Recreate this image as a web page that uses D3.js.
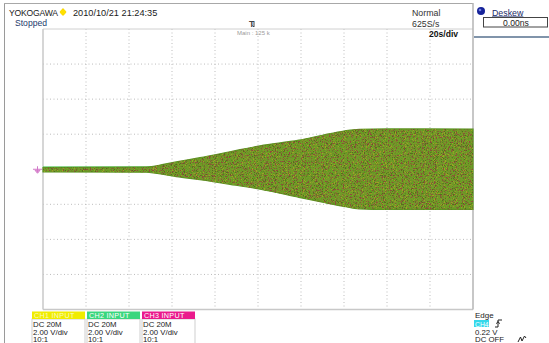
<!DOCTYPE html>
<html>
<head>
<meta charset="utf-8">
<script src="https://cdn.jsdelivr.net/npm/d3@7/dist/d3.min.js"></script>
<style>
html,body{margin:0;padding:0;background:#fff;}
svg{display:block;font-family:"Liberation Sans",Arial,sans-serif;}
</style>
</head>
<body>
<svg id="c" width="549" height="343"></svg>
<script>
// ---- data ----
const timeS  = [0, 48, 52, 56, 62, 73, 87, 101, 119, 130, 140, 147, 160, 200];     // seconds
const upperV = [0.10, 0.12, 0.18, 0.28, 0.42, 0.66, 1.00, 1.34, 1.66, 1.94, 2.18, 2.28, 2.30, 2.29];
const lowerV = [-0.15, -0.17, -0.22, -0.30, -0.42, -0.60, -0.86, -1.14, -1.60, -1.88, -2.12, -2.26, -2.29, -2.29];
const traceT = [0, 60];            // flat pre-growth traces
const ch2Level = [0.11, 0.11];     // green trace
const ch1Level = [-0.06, -0.06];   // yellow trace
const xTicks = [0, 20, 40, 60, 80, 100, 120, 140, 160, 180, 200];
const yTicks = [-8, -6, -4, -2, 0, 2, 4, 6, 8];
const channels = [
  {name:"CH1  INPUT", color:"#f0ec00", lines:["DC 20M","2.00 V/div","10:1"]},
  {name:"CH2  INPUT", color:"#3ad67e", lines:["DC 20M","2.00 V/div","10:1"]},
  {name:"CH3  INPUT", color:"#ea1a8c", lines:["DC 20M","2.00 V/div","10:1"]}
];

const svg = d3.select("#c");
const L = 43, R = 473, T = 29, B = 309.5;
const x = d3.scaleLinear().domain([0, 200]).range([L, R]);
const y = d3.scaleLinear().domain([-8, 8]).range([B, T]);

// defs: speckle textures
const defs = svg.append("defs");
function speck(id, seed, freq, rgb, ch, k, c) {
  const f = defs.append("filter").attr("id", id)
    .attr("x", 0).attr("y", 0).attr("width", 1).attr("height", 1)
    .attr("color-interpolation-filters", "sRGB");
  f.append("feTurbulence").attr("type", "fractalNoise")
    .attr("baseFrequency", freq).attr("numOctaves", 2).attr("seed", seed);
  const a = [0,0,0,0]; a[ch] = k;
  f.append("feColorMatrix").attr("type", "matrix").attr("values",
    `0 0 0 0 ${rgb[0]} 0 0 0 0 ${rgb[1]} 0 0 0 0 ${rgb[2]} ${a.join(" ")} ${c}`);
  f.append("feComposite").attr("in2", "SourceAlpha").attr("operator", "in");
}
speck("spG", 7, 0.8, [0.38, 0.62, 0.12], 1, 9, -4.7);
speck("spR", 3, 0.85, [0.56, 0.30, 0.23], 0, 10, -5.9);
speck("spY", 13, 0.9, [0.62, 0.64, 0.14], 2, 10, -6.0);
speck("spD", 21, 0.9, [0.34, 0.42, 0.12], 0, 10, -6.0);

// outer frame
svg.append("line").attr("x1", 4.5).attr("x2", 4.5).attr("y1", 3).attr("y2", 343).attr("stroke", "#9a9a9a");
svg.append("line").attr("x1", 4).attr("x2", 473).attr("y1", 3.5).attr("y2", 3.5).attr("stroke", "#a8a8a8");

// grid
const g = svg.append("g");
g.selectAll(".vx").data(xTicks.slice(1, -1)).join("line")
  .attr("x1", d => x(d)).attr("x2", d => x(d)).attr("y1", T).attr("y2", B)
  .attr("stroke", "#bdbdbd").attr("stroke-dasharray", "1,2.5");
g.selectAll(".hy").data(yTicks.slice(1, -1)).join("line")
  .attr("x1", L).attr("x2", R).attr("y1", d => y(d)).attr("y2", d => y(d))
  .attr("stroke", "#bdbdbd").attr("stroke-dasharray", "1,2.5");

// plot borders
svg.append("line").attr("x1", L).attr("x2", R).attr("y1", T).attr("y2", T).attr("stroke", "#d0d0d0");
svg.append("line").attr("x1", L).attr("x2", L).attr("y1", T).attr("y2", B).attr("stroke", "#c8c8c8").attr("stroke-width", 1.5);
svg.append("line").attr("x1", L).attr("x2", R).attr("y1", B).attr("y2", B).attr("stroke", "#c8c8c8").attr("stroke-width", 1.5);
svg.append("line").attr("x1", R).attr("x2", R).attr("y1", 3).attr("y2", B).attr("stroke", "#b4b4b4").attr("stroke-width", 1.5);

// flat traces
const line = d3.line().x(d => x(d[0])).y(d => y(d[1]));
svg.append("path").attr("d", line(traceT.map((t, i) => [t, ch1Level[i]])))
  .attr("stroke", "#e6e21c").attr("stroke-width", 2.6).attr("fill", "none");
svg.append("path").attr("d", line(traceT.map((t, i) => [t, ch2Level[i]])))
  .attr("stroke", "#2fbf3a").attr("stroke-width", 1.5).attr("fill", "none");

// envelope
const env = timeS.map((t, i) => ({t, u: upperV[i], l: lowerV[i]}));
const area = d3.area().x(d => x(d.t)).y0(d => y(d.l)).y1(d => y(d.u)).curve(d3.curveMonotoneX);
const ad = area(env);
svg.append("path").attr("d", ad).attr("fill", "#74982a").attr("stroke", "#5c9222").attr("stroke-width", 1.2);
svg.append("path").attr("d", ad).attr("fill", "#000").attr("filter", "url(#spG)");
svg.append("path").attr("d", ad).attr("fill", "#000").attr("filter", "url(#spY)");
svg.append("path").attr("d", ad).attr("fill", "#000").attr("filter", "url(#spD)");
svg.append("path").attr("d", ad).attr("fill", "#000").attr("filter", "url(#spR)");

// ground marker (left)
svg.append("path").attr("d", `M33,${y(0)} h9 M37.5,${y(0)-3} v6 M35,${y(0)+1} l2.5,3 l2.5,-3 z`)
  .attr("stroke", "#d27ac8").attr("stroke-width", 1).attr("fill", "#e7a6de");

// header texts
const txt = (s, X, Y, size, fill, weight) => svg.append("text").attr("x", X).attr("y", Y)
  .attr("font-size", size).attr("fill", fill || "#222").attr("font-weight", weight || "normal").text(s);
txt("YOKOGAWA", 9, 16, 8.6, "#1a1a1a").attr("letter-spacing", -0.2);
svg.append("path").attr("d", "M63,8 L66.5,12 L63,16 L59.5,12 Z").attr("fill", "#f6d400");
svg.append("circle").attr("cx", 63).attr("cy", 12).attr("r", 2.6).attr("fill", "#ffe000");
txt("2010/10/21 21:24:35", 73, 16, 9.2, "#1a1a1a");
txt("Stopped", 15, 26, 8.6, "#1d3a6c");
txt("T", 249, 27, 9, "#444", "bold");
svg.append("path").attr("d", "M254,22 v5 l-1.5,-1.5").attr("stroke", "#444").attr("fill", "none");
txt("Main : 125 k", 237, 35, 6, "#9a9a9a");
txt("Normal", 412, 15.5, 8.8, "#333");
txt("625S/s", 412, 26.5, 8.8, "#333");
txt("20s/div", 429, 37, 8.6, "#111", "bold");

// deskew panel
svg.append("circle").attr("cx", 481).attr("cy", 11).attr("r", 4).attr("fill", "#16239a");
svg.append("circle").attr("cx", 480).attr("cy", 10).attr("r", 1.3).attr("fill", "#6f7fe0");
txt("Deskew", 492, 15.5, 8.8, "#1a2a6a").attr("text-decoration", "underline");
svg.append("rect").attr("x", 483.5).attr("y", 17.5).attr("width", 64).attr("height", 9.5)
  .attr("fill", "#fff").attr("stroke", "#444");
txt("0.00ns", 503, 25.6, 8.6, "#222");
svg.append("line").attr("x1", 474).attr("x2", 549).attr("y1", 37).attr("y2", 37)
  .attr("stroke", "#8094aa").attr("stroke-width", 2);

// channel boxes
channels.forEach((c, i) => {
  const bx = 32 + i * 55;
  svg.append("rect").attr("x", bx).attr("y", 319).attr("width", 53).attr("height", 26)
    .attr("fill", "#fff").attr("stroke", "#cfcfcf");
  svg.append("rect").attr("x", bx).attr("y", 311.5).attr("width", 53).attr("height", 7.5).attr("fill", c.color);
  txt(c.name, bx + 2, 318, 7.2, i === 0 ? "#fbfbc0" : "#ffffff").attr("letter-spacing", 0.3);
  c.lines.forEach((s, j) => txt(s, bx + 1, 327 + j * 7.6, 7.8, "#1a1a1a"));
});

// trigger info
txt("Edge", 475, 318, 8, "#222");
svg.append("rect").attr("x", 474).attr("y", 320).attr("width", 15).attr("height", 7).attr("fill", "#35d8ea");
txt("CH4", 475, 326.5, 6.8, "#fff");
svg.append("path").attr("d", "M495,327 h3 v-7 h4 M498,321.5 l-1.6,2.2 M498,321.5 l1.6,2.2")
  .attr("stroke", "#222").attr("fill", "none").attr("stroke-width", 1);
txt("0.22 V", 475, 334.6, 7.8, "#222");
txt("DC OFF", 475, 342.2, 7.8, "#222");
svg.append("path").attr("d", "M518,342 l2.5,-5 l1.5,4 l2.5,-5 l1.5,2")
  .attr("stroke", "#222").attr("fill", "none").attr("stroke-width", 1);
</script>
</body>
</html>
